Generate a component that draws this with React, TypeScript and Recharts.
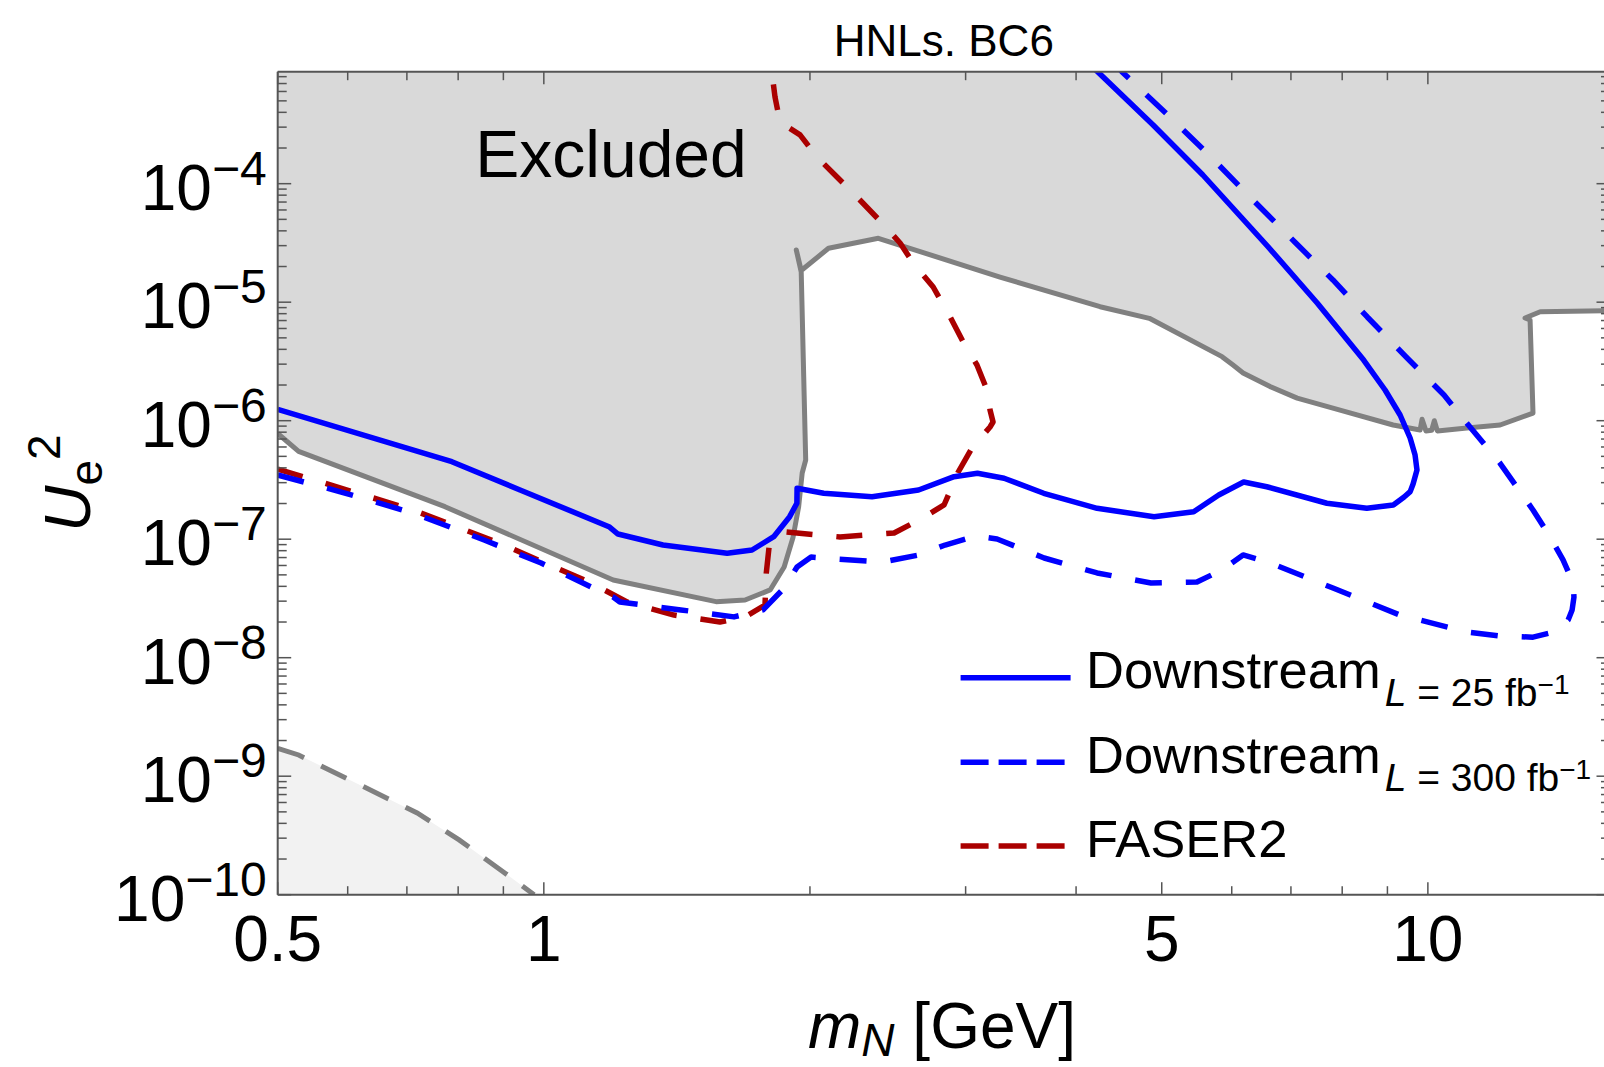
import React from "react";
import { ComposedChart, XAxis, YAxis, Line, Area, Legend } from "recharts";

// ---------- axes ----------
const X_DOMAIN: [number, number] = [0.5, 16.07];
const Y_DOMAIN: [number, number] = [1e-10, 8.81e-4];

const xMajorTicks = [0.5, 1, 5, 10];
const xMinorTicks = [0.6, 0.7, 0.8, 0.9, 2, 3, 4, 6, 7, 8, 9];
const yMajorExponents = [-10, -9, -8, -7, -6, -5, -4];
const yMinorMantissas = [2, 3, 4, 5, 6, 7, 8, 9];

// ---------- texts ----------
const titleText = "HNLs. BC6";
const excludedText = "Excluded";
const legendNames = ["Downstream", "Downstream", "FASER2"];
const legendLumis = ["25", "300", ""];

// ---------- series: [m_N (GeV), U_e^2] ----------
const excludedBoundary: [number, number][] = [
  [0.5, 7.8e-7], [0.528, 5.5e-7], [0.773, 1.88e-7], [1.198, 4.53e-8], [1.566, 2.97e-8],
  [1.689, 3.07e-8], [1.803, 3.73e-8], [1.87, 5.83e-8], [1.914, 1.04e-7], [1.942, 1.88e-7],
  [1.96, 3.62e-7], [1.978, 4.66e-7], [1.955, 1.8e-5], [1.93, 2.76e-5], [1.955, 1.85e-5],
  [2.099, 2.85e-5], [2.39, 3.46e-5], [3.281, 1.63e-5], [4.258, 9.16e-6], [4.841, 7.31e-6],
  [5.85, 3.47e-6], [6.02, 2.95e-6], [6.18, 2.53e-6], [6.63, 1.94e-6], [7.115, 1.55e-6],
  [7.955, 1.23e-6], [9.135, 9.2e-7], [9.8, 8.35e-7], [9.85, 1.03e-6], [9.95, 8.2e-7],
  [10.1, 8.3e-7], [10.17, 1.0e-6], [10.25, 8.2e-7], [11.07, 8.68e-7], [12.07, 9.2e-7],
  [13.15, 1.16e-6], [13.05, 7.07e-6], [12.88, 7.35e-6], [13.4, 8.31e-6], [16.1, 8.48e-6],
];

const bbnBoundary: [number, number][] = [
  [0.5, 1.72e-9], [0.528, 1.51e-9], [0.719, 4.9e-10], [0.802, 2.9e-10], [0.904, 1.52e-10],
  [0.975, 1.0e-10],
];

const downstream25: [number, number][] = [
  [0.5, 1.248e-6], [0.787, 4.51e-7], [0.94, 2.6e-7], [1.185, 1.275e-7], [1.213, 1.106e-7],
  [1.364, 8.93e-8], [1.612, 7.6e-8], [1.72, 8.11e-8], [1.82, 1.05e-7], [1.897, 1.549e-7],
  [1.933, 2.01e-7], [1.934, 2.69e-7], [2.073, 2.44e-7], [2.351, 2.28e-7], [2.654, 2.6e-7],
  [2.911, 3.37e-7], [3.094, 3.6e-7], [3.316, 3.27e-7], [3.677, 2.44e-7], [4.225, 1.823e-7],
  [4.901, 1.549e-7], [5.434, 1.707e-7], [5.8, 2.36e-7], [6.189, 3.04e-7], [6.573, 2.77e-7],
  [7.687, 2.01e-7], [8.53, 1.823e-7], [9.14, 1.944e-7], [9.4, 2.27e-7], [9.55, 2.52e-7],
  [9.622, 2.92e-7], [9.72, 3.84e-7], [9.672, 5.13e-7], [9.548, 7.14e-7], [9.302, 1.117e-6],
  [8.945, 1.816e-6], [8.46, 3.25e-6], [7.5, 9.79e-6], [6.595, 2.94e-5], [5.565, 1.184e-4],
  [4.889, 3.13e-4], [4.231, 8.81e-4], [4.0, 1.3e-3],
];

const downstream300: [number, number][] = [
  [0.5, 3.48e-7], [0.59, 2.5e-7], [0.711, 1.664e-7], [0.856, 9.84e-8], [0.993, 6.3e-8],
  [1.131, 3.95e-8], [1.198, 3.25e-8], [1.219, 2.95e-8], [1.429, 2.53e-8], [1.641, 2.21e-8],
  [1.77, 2.53e-8], [1.87, 3.87e-8], [1.934, 5.83e-8], [2.006, 7.07e-8], [2.141, 6.81e-8],
  [2.419, 6.42e-8], [2.657, 7.36e-8], [2.844, 8.93e-8], [3.082, 1.064e-7], [3.256, 1.004e-7],
  [3.681, 6.94e-8], [4.225, 5.19e-8], [4.862, 4.27e-8], [5.48, 4.35e-8], [5.85, 5.5e-8],
  [6.18, 7.36e-8], [6.63, 6.3e-8], [7.81, 3.87e-8], [9.3, 2.29e-8], [11.07, 1.65e-8],
  [12.07, 1.524e-8], [13.15, 1.49e-8], [13.75, 1.616e-8], [14.11, 1.816e-8], [14.41, 2.08e-8],
  [14.56, 2.53e-8], [14.63, 3.25e-8], [14.6, 4.27e-8], [14.22, 6.68e-8], [13.75, 1.044e-7],
  [13.15, 1.764e-7], [12.07, 4.37e-7], [11.07, 9.51e-7], [10.43, 1.648e-6], [9.45, 3.45e-6],
  [8.54, 7.5e-6], [7.81, 1.54e-5], [7.07, 3.22e-5], [6.39, 6.87e-5], [5.625, 1.816e-4],
  [5.08, 3.8e-4], [4.51, 8.76e-4], [4.31, 1.29e-3],
];

const faser2: [number, number][] = [
  [0.5, 3.91e-7], [0.564, 2.98e-7], [0.711, 1.764e-7], [0.89, 9.29e-8], [1.131, 4.27e-8],
  [1.242, 2.95e-8], [1.404, 2.29e-8], [1.582, 2.0e-8], [1.689, 2.21e-8], [1.779, 2.78e-8],
  [1.785, 5.19e-8], [1.798, 8.59e-8], [1.879, 1.15e-7], [2.163, 1.044e-7], [2.49, 1.128e-7],
  [2.657, 1.452e-7], [2.836, 1.944e-7], [2.943, 3.69e-7], [3.05, 5.88e-7], [3.197, 8.85e-7],
  [3.222, 9.75e-7], [3.197, 1.231e-6], [3.172, 1.816e-6], [3.09, 2.95e-6], [2.981, 4.61e-6],
  [2.882, 7.5e-6], [2.757, 1.343e-5], [2.617, 2.14e-5], [2.529, 3.16e-5], [2.413, 4.66e-5],
  [2.261, 7.72e-5], [2.146, 1.139e-4], [2.037, 1.68e-4], [1.949, 2.58e-4], [1.85, 3.32e-4],
  [1.826, 5.39e-4], [1.811, 8.76e-4], [1.807, 1.22e-3],
];

// ---------- styling ----------
const FONT = "'Liberation Sans', Arial, Helvetica, sans-serif";
const FRAME = "#555555";
const BLUE = "#0000ff";
const RED = "#aa0000";
const GRAY = "#808080";

const toRows = (pts: [number, number][]) => pts.map(([m, u]) => ({ m, u }));

const close = (a: number, b: number) =>
  Math.abs(a - b) <= 1e-9 * Math.max(Math.abs(a), Math.abs(b));

const yMajorTicks = yMajorExponents.map((e) => Math.pow(10, e));
const yAllTicks: number[] = [];
yMajorExponents.forEach((e) => {
  yAllTicks.push(Math.pow(10, e));
  yMinorMantissas.forEach((mm) => {
    const v = mm * Math.pow(10, e);
    if (v <= Y_DOMAIN[1]) yAllTicks.push(v);
  });
});
const xAllTicks = [...xMajorTicks, ...xMinorTicks].sort((a, b) => a - b);

const isMajorX = (v: number) => xMajorTicks.some((t) => close(t, v));
const isMajorY = (v: number) => yMajorTicks.some((t) => close(t, v));

const BottomTick = (props: any) => {
  const { x, y, payload } = props;
  const v = payload.value as number;
  const major = isMajorX(v);
  return (
    <g>
      <line x1={x} y1={y} x2={x} y2={y - (major ? 12.5 : 8.5)} stroke={FRAME} strokeWidth={1.5} />
      {major && (
        <text x={x} y={y + 66} textAnchor="middle" fontFamily={FONT} fontSize={64} fill="#000">
          {String(v)}
        </text>
      )}
    </g>
  );
};

const TopTick = (props: any) => {
  const { x, y, payload } = props;
  const major = isMajorX(payload.value);
  return <line x1={x} y1={y} x2={x} y2={y + (major ? 12.5 : 8.5)} stroke={FRAME} strokeWidth={1.5} />;
};

const LeftTick = (props: any) => {
  const { x, y, payload } = props;
  const v = payload.value as number;
  const major = isMajorY(v);
  const exp = Math.round(Math.log10(v));
  return (
    <g>
      <line x1={x} y1={y} x2={x + (major ? 13.5 : 9)} y2={y} stroke={FRAME} strokeWidth={1.5} />
      {major && (
        <text x={x - 11} y={y + 26} textAnchor="end" fontFamily={FONT} fontSize={64} fill="#000">
          10
          <tspan fontSize={48} dy={-25}>
            {"\u2212" + Math.abs(exp)}
          </tspan>
        </text>
      )}
    </g>
  );
};

const RightTick = (props: any) => {
  const { x, y, payload } = props;
  const major = isMajorY(payload.value);
  return <line x1={x} y1={y} x2={x - (major ? 13.5 : 9)} y2={y} stroke={FRAME} strokeWidth={1.5} />;
};

// legend geometry (absolute page coordinates)
const LEG_LEFT = 940;
const LEG_TOP = 620;
const legendRowY = [677.7, 762.3, 846];
const legendColors = [BLUE, BLUE, RED];
const legendDash = [undefined, "28 10", "28 10"];

const renderLegend = () => (
  <svg width={680} height={270} style={{ overflow: "visible" }}>
    {legendNames.map((name, i) => {
      const cy = legendRowY[i] - LEG_TOP;
      return (
        <g key={i}>
          <line
            x1={960.6 - LEG_LEFT}
            x2={1070.6 - LEG_LEFT}
            y1={cy}
            y2={cy}
            stroke={legendColors[i]}
            strokeWidth={5.5}
            strokeDasharray={legendDash[i]}
          />
          <text x={1086 - LEG_LEFT} y={cy + 10.6} fontFamily={FONT} fontSize={52.5} fill="#000">
            {name}
            {legendLumis[i] !== "" && (
              <>
                <tspan fontSize={39} dx={4} dy={17.7} fontStyle="italic">
                  L
                </tspan>
                <tspan fontSize={39}>{" = " + legendLumis[i] + " fb"}</tspan>
                <tspan fontSize={28} dy={-12}>
                  {"\u22121"}
                </tspan>
              </>
            )}
          </text>
        </g>
      );
    })}
  </svg>
);

export default function App() {
  const W = 1620;
  const H = 1067;
  const plotLeft = 277.7;
  const plotTop = 71.7;
  const plotRight = 1610;
  const plotBottom = 894.7;
  return (
    <div
      style={{
        position: "absolute",
        left: 0,
        top: 0,
        width: 1604,
        height: 1067,
        overflow: "hidden",
        background: "#ffffff",
      }}
    >
      <ComposedChart
        width={W}
        height={H}
        margin={{
          top: plotTop - 1,
          left: plotLeft - 1,
          right: W - plotRight - 1,
          bottom: H - plotBottom - 1,
        }}
      >
        <XAxis
          dataKey="m"
          type="number"
          scale="log"
          domain={X_DOMAIN}
          allowDataOverflow
          ticks={xAllTicks}
          interval={0}
          height={1}
          tickSize={0}
          tickMargin={0}
          tickLine={false}
          tick={<BottomTick />}
          axisLine={{ stroke: FRAME, strokeWidth: 2 }}
        />
        <XAxis
          xAxisId="top"
          orientation="top"
          dataKey="m"
          type="number"
          scale="log"
          domain={X_DOMAIN}
          allowDataOverflow
          ticks={xAllTicks}
          interval={0}
          height={1}
          tickSize={0}
          tickMargin={0}
          tickLine={false}
          tick={<TopTick />}
          axisLine={{ stroke: FRAME, strokeWidth: 2 }}
        />
        <YAxis
          type="number"
          scale="log"
          domain={Y_DOMAIN}
          allowDataOverflow
          ticks={yAllTicks}
          interval={0}
          width={1}
          tickSize={0}
          tickMargin={0}
          tickLine={false}
          tick={<LeftTick />}
          axisLine={{ stroke: FRAME, strokeWidth: 2 }}
        />
        <YAxis
          yAxisId="right"
          orientation="right"
          type="number"
          scale="log"
          domain={Y_DOMAIN}
          allowDataOverflow
          ticks={yAllTicks}
          interval={0}
          width={1}
          tickSize={0}
          tickMargin={0}
          tickLine={false}
          tick={<RightTick />}
          axisLine={{ stroke: FRAME, strokeWidth: 2 }}
        />

        <Area
          data={toRows(excludedBoundary)}
          dataKey="u"
          type="linear"
          baseValue="dataMax"
          fill="#d9d9d9"
          fillOpacity={1}
          stroke={GRAY}
          strokeWidth={5}
          strokeLinejoin="round"
          dot={false}
          activeDot={false}
          isAnimationActive={false}
        />
        <Area
          data={toRows(bbnBoundary)}
          dataKey="u"
          type="linear"
          fill="#f2f2f2"
          fillOpacity={1}
          stroke={GRAY}
          strokeWidth={5}
          strokeDasharray="28 19"
          dot={false}
          activeDot={false}
          isAnimationActive={false}
        />
        <Line
          data={toRows(faser2)}
          dataKey="u"
          type="linear"
          stroke={RED}
          strokeWidth={5.5}
          strokeLinejoin="round"
          strokeDasharray="26 24"
          dot={false}
          activeDot={false}
          isAnimationActive={false}
        />
        <Line
          data={toRows(downstream300)}
          dataKey="u"
          type="linear"
          stroke={BLUE}
          strokeWidth={5.5}
          strokeLinejoin="round"
          strokeDasharray="27 24"
          dot={false}
          activeDot={false}
          isAnimationActive={false}
        />
        <Line
          data={toRows(downstream25)}
          dataKey="u"
          type="linear"
          stroke={BLUE}
          strokeWidth={5.5}
          strokeLinejoin="round"
          dot={false}
          activeDot={false}
          isAnimationActive={false}
        />

        <text x={(plotLeft + plotRight) / 2} y={56} textAnchor="middle" fontFamily={FONT} fontSize={44} fill="#000">
          {titleText}
        </text>
        <text x={942} y={1048} textAnchor="middle" fontFamily={FONT} fontSize={64} fill="#000">
          <tspan fontStyle="italic">m</tspan>
          <tspan fontStyle="italic" fontSize={46} dy={8}>
            N
          </tspan>
          <tspan dy={-8}>{"\u00A0[GeV]"}</tspan>
        </text>
        <text
          x={90}
          y={483}
          transform="rotate(-90, 90, 483)"
          textAnchor="middle"
          fontFamily={FONT}
          fontSize={64}
          fill="#000"
        >
          <tspan fontStyle="italic">U</tspan>
          <tspan fontSize={46} dy={12}>
            e
          </tspan>
          <tspan fontSize={46} dy={-42}>
            2
          </tspan>
        </text>

        <Legend
          layout="vertical"
          align="center"
          verticalAlign="middle"
          content={renderLegend}
          wrapperStyle={{
            position: "absolute",
            left: LEG_LEFT,
            top: LEG_TOP,
            width: 680,
            height: 270,
            margin: 0,
            padding: 0,
          }}
        />
      </ComposedChart>
      <svg
        width={1604}
        height={1067}
        style={{ position: "absolute", left: 0, top: 0, pointerEvents: "none" }}
      >
        <text x={611} y={177} textAnchor="middle" fontFamily={FONT} fontSize={66} fill="#000">
          {excludedText}
        </text>
      </svg>
    </div>
  );
}
